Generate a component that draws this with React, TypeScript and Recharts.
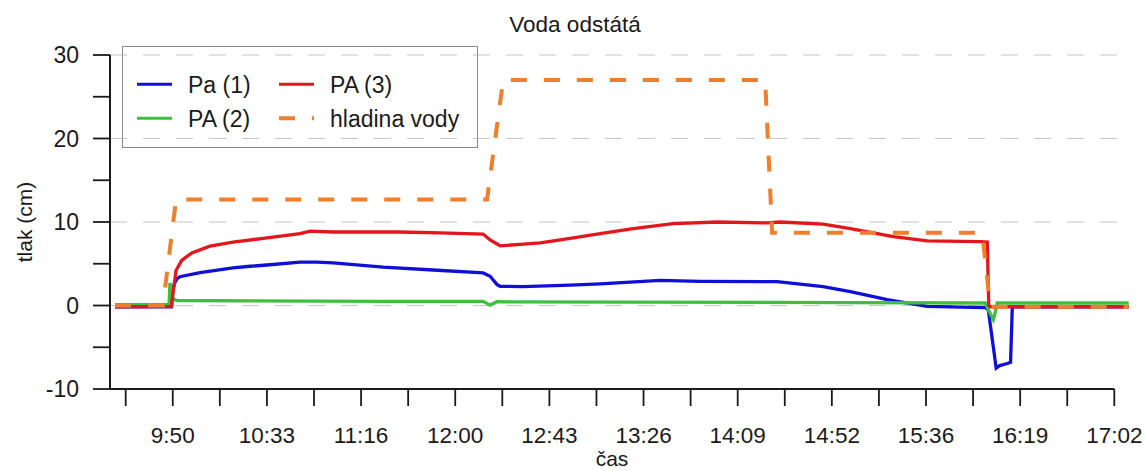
import React from 'react';
import { LineChart, Line, XAxis, YAxis, ReferenceLine, Legend, Label } from 'recharts';

const FONT = '"Liberation Sans", Arial, Helvetica, sans-serif';
const TEXT = '#1a1a1a';

// time = minutes after midnight
const pa1Time = [563.9, 589.8, 590.5, 591.3, 592.4, 593.7, 602.9, 618.0, 625.9, 633.7, 648.8, 656.6, 664.0, 686.9, 709.9, 732.8, 736.0, 739.2, 740.6, 751.2, 772.7, 786.5, 814.0, 832.4, 867.7, 888.8, 901.3, 918.2, 936.6, 963.2, 964.6, 968.2, 969.8, 973.3, 974.8, 975.6, 1029.0];
const pa1Value = [-0.15, -0.15, 2.0, 2.7, 3.2, 3.45, 3.95, 4.5, 4.7, 4.85, 5.2, 5.2, 5.1, 4.6, 4.25, 3.9, 3.5, 2.5, 2.3, 2.25, 2.45, 2.6, 3.0, 2.9, 2.85, 2.25, 1.65, 0.7, -0.1, -0.25, -0.55, -7.5, -7.2, -6.95, -6.8, -0.15, -0.15];

const pa2Time = [563.9, 588.7, 589.1, 589.8, 590.5, 592.4, 625.9, 686.9, 732.8, 736.0, 739.2, 800.0, 900.0, 963.2, 964.6, 966.9, 967.8, 968.7, 1029.0];
const pa2Value = [0.1, 0.1, 2.7, 2.0, 0.8, 0.6, 0.55, 0.5, 0.5, 0.05, 0.45, 0.4, 0.35, 0.3, -0.5, -1.7, -0.8, 0.3, 0.3];

const pa3Time = [563.9, 589.8, 590.5, 590.9, 591.9, 594.5, 599.1, 607.5, 618.0, 633.7, 648.8, 653.4, 664.0, 694.7, 713.1, 732.8, 736.0, 740.6, 751.2, 759.0, 772.7, 786.5, 801.6, 820.0, 840.2, 863.1, 869.1, 888.8, 901.3, 921.0, 936.6, 960.9, 964.1, 964.8, 965.5, 1029.0];
const pa3Value = [-0.15, -0.1, 1.5, 2.2, 4.2, 5.4, 6.3, 7.1, 7.6, 8.1, 8.6, 8.9, 8.8, 8.8, 8.7, 8.55, 7.85, 7.15, 7.35, 7.5, 8.05, 8.6, 9.2, 9.8, 10.0, 9.9, 10.0, 9.75, 9.2, 8.25, 7.75, 7.65, 7.6, 0.0, -0.15, -0.15];

const levelTime = [563.9, 585.9, 591.9, 734.6, 742.0, 862.2, 865.4, 961.8, 965.5, 1029.0];
const levelValue = [0, 0, 12.7, 12.7, 27.0, 27.0, 8.7, 8.7, -0.15, -0.15];

const xTicks = [568.8, 590.4, 612, 633.6, 655.2, 676.8, 698.4, 720, 741.6, 763.2, 784.8, 806.4, 828, 849.6, 871.2, 892.8, 914.4, 936, 957.6, 979.2, 1000.8, 1022.4];
const xLabelTicks = [590.4, 633.6, 676.8, 720, 763.2, 806.4, 849.6, 892.8, 936, 979.2, 1022.4];
const yTicks = [-10, -5, 0, 5, 10, 15, 20, 25, 30];
const yLabelTicks = [-10, 0, 10, 20, 30];
const gridValues = [0, 10, 20, 30];

const names = ['Pa (1)', 'PA (2)', 'PA (3)', 'hladina vody'];
const colors = ['#0f0fd8', '#3fbf3f', '#e3161c', '#ef7f2c'];

const toPoints = (ts: number[], vs: number[]) => ts.map((t, i) => ({ t, v: vs[i] }));
const pa1 = toPoints(pa1Time, pa1Value);
const pa2 = toPoints(pa2Time, pa2Value);
const pa3 = toPoints(pa3Time, pa3Value);
const level = toPoints(levelTime, levelValue);

const fmtTime = (m: number) => {
  const h = Math.floor(m / 60);
  const mm = Math.floor(m - h * 60 + 1e-6);
  return `${h}:${mm < 10 ? '0' + mm : mm}`;
};

const XTick = (props: any) => {
  const { x, y, payload } = props;
  if (!xLabelTicks.some((v) => Math.abs(v - payload.value) < 1e-6)) return <g />;
  return (
    <text x={x} y={y + 35} textAnchor="middle" fontSize={22.5} fontFamily={FONT} fill={TEXT}>
      {fmtTime(payload.value)}
    </text>
  );
};

const YTick = (props: any) => {
  const { x, y, payload } = props;
  if (!yLabelTicks.includes(payload.value)) return <g />;
  return (
    <text x={x - 12} y={y + 8} textAnchor="end" fontSize={23} fontFamily={FONT} fill={TEXT}>
      {payload.value}
    </text>
  );
};

const LegendBox = () => {
  const rows = [
    { i: 0, col: 0, row: 0 },
    { i: 1, col: 0, row: 1 },
    { i: 2, col: 1, row: 0 },
    { i: 3, col: 1, row: 1 },
  ];
  return (
    <svg width={356} height={102} style={{ display: 'block' }}>
      <rect x={0.5} y={0.5} width={355} height={101} fill="none" stroke="#8a8a8a" strokeWidth={1} />
      {rows.map(({ i, col, row }) => {
        const x0 = 15 + col * 142;
        const yc = 38.3 + row * 34;
        return (
          <g key={i}>
            <line
              x1={x0}
              x2={x0 + 35}
              y1={yc}
              y2={yc}
              stroke={colors[i]}
              strokeWidth={i === 3 ? 4 : 3}
              strokeDasharray={i === 3 ? '16 17' : undefined}
            />
            <text x={x0 + 51} y={yc + 8.5} fontSize={23} fontFamily={FONT} fill={TEXT}>
              {names[i]}
            </text>
          </g>
        );
      })}
    </svg>
  );
};

export default function App() {
  return (
    <div style={{ position: 'absolute', left: 0, top: 0, width: 1147, height: 471, background: '#fff' }}>
      <svg width={1147} height={45} style={{ position: 'absolute', left: 0, top: 0 }}>
        <text x={575} y={31.5} textAnchor="middle" fontSize={22.5} fontFamily={FONT} fill={TEXT}>
          Voda odstátá
        </text>
      </svg>
      <LineChart width={1147} height={471} margin={{ top: 55, right: 17, bottom: 22, left: 0 }}>
        <XAxis
          dataKey="t"
          type="number"
          domain={[561.6, 1029.6]}
          allowDataOverflow
          ticks={xTicks}
          interval={0}
          tick={<XTick />}
          tickSize={17}
          tickLine={{ stroke: '#1a1a1a', strokeWidth: 1.8 }}
          axisLine={false}
          height={60}
        >
          <Label
            content={(p: any) => (
              <text x={p.viewBox.x + 502} y={p.viewBox.y + 77} textAnchor="middle" fontSize={21} fontFamily={FONT} fill={TEXT}>
                čas
              </text>
            )}
          />
        </XAxis>
        <YAxis
          type="number"
          domain={[-10, 30]}
          ticks={yTicks}
          interval={0}
          tick={<YTick />}
          tickSize={17}
          tickLine={{ stroke: '#1a1a1a', strokeWidth: 1.8 }}
          axisLine={{ stroke: '#1a1a1a', strokeWidth: 2 }}
          width={110}
        >
          <Label
            content={(p: any) => {
              const cx = p.viewBox.x + 24;
              const cy = p.viewBox.y + p.viewBox.height / 2;
              return (
                <text x={cx} y={cy} transform={`rotate(-90 ${cx} ${cy})`} textAnchor="middle" dominantBaseline="central" fontSize={21} fontFamily={FONT} fill={TEXT}>
                  tlak (cm)
                </text>
              );
            }}
          />
        </YAxis>
        {gridValues.map((v) => (
          <ReferenceLine key={v} y={v} stroke="#c8c8c8" strokeWidth={1.2} strokeDasharray="17 16" />
        ))}
        <ReferenceLine
          segment={[{ x: 561.6, y: -10 }, { x: 1022.4, y: -10 }]}
          stroke="#1a1a1a"
          strokeWidth={2}
          ifOverflow="visible"
        />
        <Line data={pa1} dataKey="v" name={names[0]} type="linear" stroke={colors[0]} strokeWidth={3.3} dot={false} isAnimationActive={false} />
        <Line data={pa2} dataKey="v" name={names[1]} type="linear" stroke={colors[1]} strokeWidth={3.3} dot={false} isAnimationActive={false} />
        <Line data={pa3} dataKey="v" name={names[2]} type="linear" stroke={colors[2]} strokeWidth={3.3} dot={false} isAnimationActive={false} />
        <Line data={level} dataKey="v" name={names[3]} type="linear" stroke={colors[3]} strokeWidth={4} strokeDasharray="16 17" dot={false} isAnimationActive={false} />
        <Legend
          layout="horizontal"
          verticalAlign="middle"
          align="center"
          content={() => <LegendBox />}
          wrapperStyle={{ position: 'absolute', left: 122, top: 46, width: 356, height: 102, margin: 0, padding: 0 }}
        />
      </LineChart>
    </div>
  );
}
